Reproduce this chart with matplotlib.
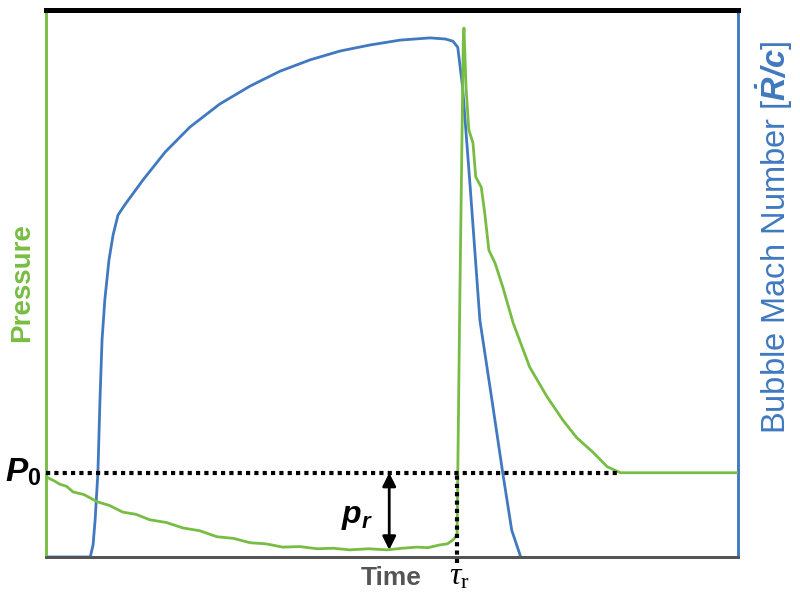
import matplotlib.pyplot as plt

plt.rcParams['font.family'] = ['Liberation Sans', 'DejaVu Sans']
plt.rcParams['mathtext.fontset'] = 'custom'
plt.rcParams['mathtext.bf'] = 'Liberation Sans:bold:italic'
plt.rcParams['mathtext.sf'] = 'Liberation Sans:bold'
plt.rcParams['mathtext.rm'] = 'Liberation Serif'
plt.rcParams['mathtext.it'] = 'Liberation Serif:italic'

green = '#78bd43'
blue = '#4079c0'

# pressure trace (arbitrary units)
t_p = [0.1, 1.2, 2.0, 3.0, 3.9, 5.5, 7.4, 9.2, 11.1, 13.0, 15.0, 17.4, 19.8,
       22.2, 24.7, 27.1, 29.5, 31.8, 34.2, 36.7, 39.2, 41.5, 43.9, 46.6, 49.3,
       51.5, 53.6, 55.2, 56.9, 58.0, 58.8, 59.4, 59.8, 60.3, 60.4, 60.7, 61.1,
       61.7, 62.1, 62.9, 63.4, 64.0, 64.9, 66.0, 67.5, 69.9, 72.4, 74.7, 76.7,
       79.0, 81.1, 83.0, 100]
p = [14.6, 13.9, 13.3, 12.9, 11.9, 11.4, 10.1, 9.4, 8.2, 7.8, 6.8, 6.3, 5.3,
     4.8, 3.7, 3.4, 2.6, 2.4, 1.8, 1.9, 1.5, 1.6, 1.3, 1.5, 1.3,
     1.6, 1.8, 1.7, 2.2, 2.4, 3.1, 4.0, 47.0, 94.5, 96.7, 85.9, 78.1,
     75.7, 69.5, 67.6, 62.9, 56.1, 53.7, 49.4, 42.8, 34.7, 29.3, 25.0, 21.8,
     19.2, 16.5, 15.4, 15.4]

# bubble Mach number trace (arbitrary units)
t_m = [0, 6.4, 6.8, 7.1, 7.5, 7.8, 8.1, 8.5, 9.1, 9.7, 10.4, 11.4, 14.0,
       17.2, 20.8, 25.1, 29.5, 33.8, 38.2, 42.5, 46.8, 51.2, 55.5, 57.7, 58.8,
       59.5, 60.2, 61.3, 62.7, 64.5, 66.0, 67.3, 68.6]
mach = [0, 0, 2.2, 6.8, 15.4, 28.7, 39.7, 47.0, 54.3, 58.9, 62.5, 64.4, 68.9,
        74.0, 78.6, 82.8, 86.1, 88.8, 90.9, 92.5, 93.6, 94.5, 94.9, 94.7, 94.3,
        93.2, 85.9, 67.6, 43.3, 28.2, 15.4, 4.9, 0]

P0 = 15.4
t_end_ref = 83.0
t_r = 59.4
t_arrow = 49.6
p_min = 1.3

fig = plt.figure(figsize=(8, 6.06), dpi=100)
ax = fig.add_axes([0.0575, 0.0809, 0.865, 0.9026])
ax2 = ax.twinx()

ax.plot(t_p, p, color=green, lw=2, zorder=3)
ax2.plot(t_m, mach, color=blue, lw=2)

ax.plot([0, t_end_ref], [P0, P0], color='black', lw=3, ls=(0, (1, 1)), zorder=4)
ax.plot([t_r, t_r], [-1.1, P0], color='black', lw=3, ls=(0, (1, 1)),
        clip_on=False, zorder=4)
ax.annotate('', xy=(t_arrow, p_min), xytext=(t_arrow, P0),
            arrowprops=dict(arrowstyle='<|-|>', color='black', lw=2,
                            mutation_scale=20, shrinkA=0, shrinkB=0))

for a in (ax, ax2):
    a.set_xlim(0, 100)
    a.set_ylim(0, 100)
    a.set_xticks([])
    a.set_yticks([])
ax.set_zorder(ax2.get_zorder() + 1)
ax.patch.set_visible(False)

for a in (ax, ax2):
    a.spines['top'].set_color('black')
    a.spines['top'].set_linewidth(3.5)
    a.spines['bottom'].set_color('#555555')
    a.spines['bottom'].set_linewidth(2)
    a.spines['left'].set_color(green)
    a.spines['left'].set_linewidth(1.8)
    a.spines['right'].set_color(blue)
    a.spines['right'].set_linewidth(1.8)

ax.text(-0.6, P0, r'$\mathbf{P}_{\mathsf{0}}$', fontsize=24, ha='right',
        va='center')
ax.text(44.9, 7.3, r'$\mathbf{p_r}$', fontsize=23, ha='center', va='center')
ax.text(49.9, -3.9, 'Time', fontsize=19, fontweight='bold', color='#555555',
        ha='center', va='center')
ax.text(t_r + 0.3, -3.6, r'$\tau_{\mathrm{r}}$', fontsize=23, ha='center',
        va='center')

fig.text(0.0275, 0.533, 'Pressure', color=green, fontsize=20,
         fontweight='bold', rotation=90, ha='center', va='center')
fig.text(0.9675, 0.609, r'Bubble Mach Number [$\mathbf{\dot{R}/c}$]',
         color=blue, fontsize=23.5, rotation=90, ha='center', va='center')

fig.savefig('out.png', dpi=100)
